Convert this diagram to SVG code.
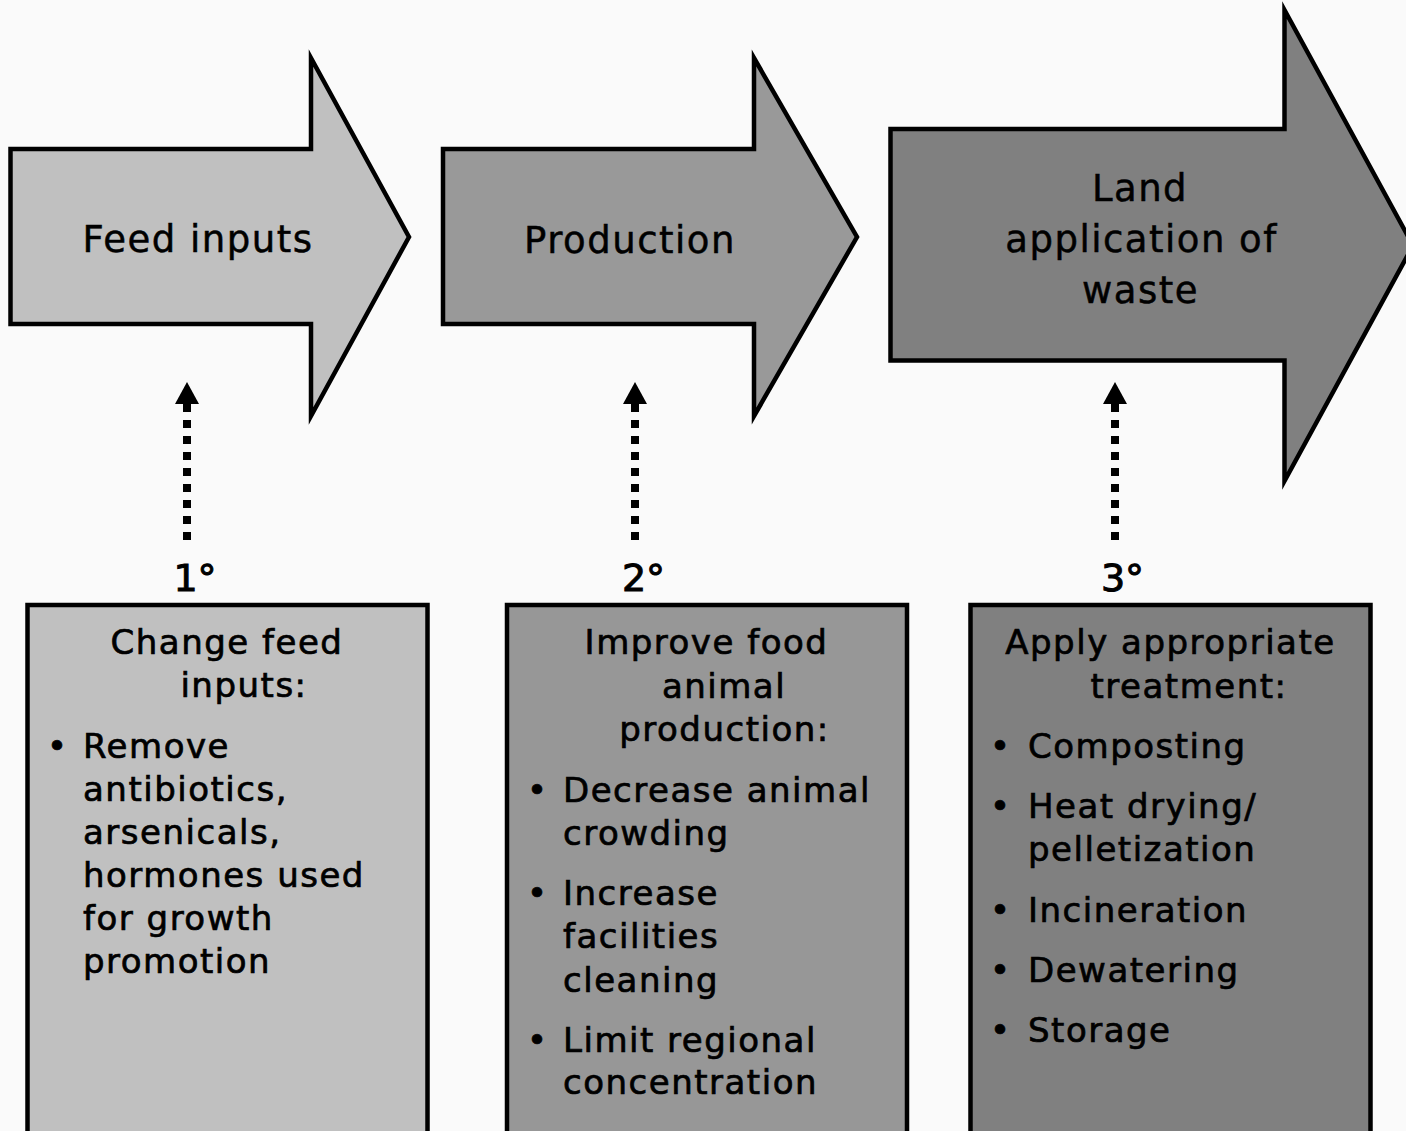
<svg xmlns="http://www.w3.org/2000/svg" width="1406" height="1131" viewBox="0 0 1406 1131">
<style>
.shape{stroke:#000;stroke-width:4.5;stroke-miterlimit:10}
.t{font-family:"DejaVu Sans",Verdana,sans-serif;fill:#000;stroke:#000;stroke-width:0.5}
.title{font-size:37px;letter-spacing:1.5px;text-anchor:middle}
.body{font-size:34px;letter-spacing:1.5px;stroke-width:0.7}
.mid{text-anchor:middle}
.lab{font-size:38px;text-anchor:middle;stroke-width:1}
.dots{stroke:#000;stroke-width:8;stroke-dasharray:8 8;fill:none}
</style>
<defs>
<marker id="head" markerUnits="userSpaceOnUse" markerWidth="24" markerHeight="24" viewBox="0 0 22 24" refX="0" refY="12" orient="auto">
<path d="M0,0 L22,12 L0,24 Z" fill="#000"/>
</marker>
</defs>
<rect width="1406" height="1131" fill="#fafafa"/>

<g id="arrow-feed">
<path class="shape" fill="#c0c0c0" d="M10.5,149 H311 V58 L409,237 L311,416 V324 H10.5 Z"/>
<text class="t title" x="198" y="252">Feed inputs</text>
</g>
<g id="arrow-production">
<path class="shape" fill="#999999" d="M443,149 H754 V58 L857,237 L754,416 V324 H443 Z"/>
<text class="t title" x="630" y="252.5">Production</text>
</g>
<g id="arrow-land">
<path class="shape" fill="#808080" d="M890.5,129 H1284.5 V10 L1413,245.5 L1284.5,481 V360.5 H890.5 Z"/>
<text class="t title" x="1140" y="201">Land</text>
<text class="t title" x="1141.5" y="252">application of</text>
<text class="t title" x="1140.5" y="303">waste</text>
</g>

<g id="connectors">
<line class="dots" x1="187" y1="540" x2="187" y2="404" marker-end="url(#head)"/>
<line class="dots" x1="635" y1="540" x2="635" y2="404" marker-end="url(#head)"/>
<line class="dots" x1="1115" y1="540" x2="1115" y2="404" marker-end="url(#head)"/>
</g>

<g id="label-1"><text class="t lab" x="195" y="591">1°</text></g>
<g id="label-2"><text class="t lab" x="643.5" y="591">2°</text></g>
<g id="label-3"><text class="t lab" x="1122.5" y="591">3°</text></g>

<g id="box-feed">
<rect class="shape" fill="#c0c0c0" x="27.5" y="605" width="400" height="540"/>
<text class="t body mid" x="227" y="654">Change feed</text>
<text class="t body mid" x="244" y="697">inputs:</text>
<text class="t body" x="47" y="758">•</text>
<text class="t body" x="83" y="758">Remove</text>
<text class="t body" x="83" y="801">antibiotics,</text>
<text class="t body" x="83" y="844">arsenicals,</text>
<text class="t body" x="83" y="887">hormones used</text>
<text class="t body" x="83" y="930">for growth</text>
<text class="t body" x="83" y="973">promotion</text>
</g>

<g id="box-production">
<rect class="shape" fill="#979797" x="507" y="605" width="400" height="540"/>
<text class="t body mid" x="706.5" y="654">Improve food</text>
<text class="t body mid" x="724" y="698">animal</text>
<text class="t body mid" x="724.5" y="741">production:</text>
<text class="t body" x="527" y="802">•</text>
<text class="t body" x="563" y="802">Decrease animal</text>
<text class="t body" x="563" y="845">crowding</text>
<text class="t body" x="527" y="905">•</text>
<text class="t body" x="563" y="905">Increase</text>
<text class="t body" x="563" y="948">facilities</text>
<text class="t body" x="563" y="992">cleaning</text>
<text class="t body" x="527" y="1052">•</text>
<text class="t body" x="563" y="1052">Limit regional</text>
<text class="t body" x="563" y="1094">concentration</text>
</g>

<g id="box-treatment">
<rect class="shape" fill="#808080" x="970.5" y="605" width="400" height="540"/>
<text class="t body mid" x="1170.5" y="654">Apply appropriate</text>
<text class="t body mid" x="1189" y="698">treatment:</text>
<text class="t body" x="990" y="758">•</text>
<text class="t body" x="1028" y="758">Composting</text>
<text class="t body" x="990" y="818">•</text>
<text class="t body" x="1028" y="818">Heat drying/</text>
<text class="t body" x="1028" y="861">pelletization</text>
<text class="t body" x="990" y="922">•</text>
<text class="t body" x="1028" y="922">Incineration</text>
<text class="t body" x="990" y="982">•</text>
<text class="t body" x="1028" y="982">Dewatering</text>
<text class="t body" x="990" y="1042">•</text>
<text class="t body" x="1028" y="1042">Storage</text>
</g>
</svg>
